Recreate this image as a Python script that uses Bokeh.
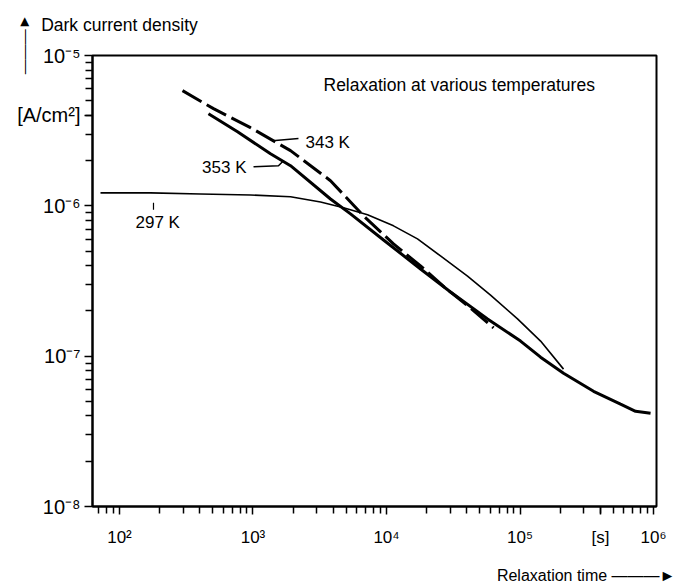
from bokeh.plotting import figure
from bokeh.models import Label, Title, FixedTicker, CustomJSTickFormatter, LogAxis
from bokeh.embed import file_html
from bokeh.resources import INLINE

# ---------------- data ----------------
t_297 = [72.1, 170.7, 404, 958, 1910, 3205, 4766, 7208, 11280, 17060, 25360,
         40420, 60120, 95770, 142500, 211700]
j_297 = [1.22e-6, 1.22e-6, 1.20e-6, 1.18e-6, 1.15e-6, 1.06e-6, 9.70e-7, 8.71e-7,
         7.36e-7, 6.03e-7, 4.64e-7, 3.41e-7, 2.55e-7, 1.77e-7, 1.26e-7, 8.2e-8]

t_343 = [296.5, 506, 958, 1910, 3806, 6725, 11280, 17980, 27660, 42590, 63310]
j_343 = [5.84e-6, 4.43e-6, 3.31e-6, 2.33e-6, 1.47e-6, 8.58e-7, 5.58e-7, 3.98e-7,
         2.84e-7, 2.09e-7, 1.54e-7]

t_353 = [464, 766, 1352, 1910, 3806, 5375, 9496, 17980, 30160, 57090, 100900,
         142500, 211700, 355300, 565900, 733300, 949600]
j_353 = [4.1e-6, 3.11e-6, 2.22e-6, 1.85e-6, 1.11e-6, 8.84e-7, 5.93e-7, 3.80e-7,
         2.67e-7, 1.77e-7, 1.26e-7, 9.85e-8, 7.70e-8, 5.84e-8, 4.79e-8, 4.30e-8, 4.17e-8]

x_major = [1e2, 1e3, 1e4, 1e5, 1e6]
y_major = [1e-8, 1e-7, 1e-6, 1e-5]
x_minor = [k * 10.0 ** d for d in range(1, 6) for k in range(2, 10)]
y_minor = [k * 10.0 ** d for d in range(-8, -5) for k in range(2, 10)]

# unit labels sit among the tick labels
x_unit_at, x_unit = 4e5, "[s]"
y_unit_at, y_unit = 4e-6, "[A/cm²]"

# axis titles: text and the x value they are centred on
y_title, y_title_at = "Dark current density", 1e2
x_title, x_title_at = "Relaxation time", 3.25e5

# curve labels (text, x, y) and leader lines
lab_343 = ("343 K", 2473, 2.63e-6)
lead_343_x = [1400, 2191]
lead_343_y = [2.71e-6, 2.80e-6]
lab_353 = ("353 K", 894, 1.79e-6)
lead_353_x = [1009, 1552, 1692]
lead_353_y = [1.82e-6, 1.848e-6, 1.995e-6]
lab_297 = ("297 K", 131.8, 7.70e-7)
mark_297_x = [179.8, 179.8]
mark_297_y = [1.047e-6, 9.40e-7]
title_text = ("Relaxation at various temperatures", 3373, 6.41e-6)

FONT = "Liberation Sans"
ARROW = "\u2014\u2014\u2014\u25ba"

# ---------------- layout ----------------
W, H = 689, 587
FL, FR, FT, FB = 92, 656, 55, 506   # frame edges on the canvas
XLO, XHI = 10 ** 1.798, 10 ** 6.022
YLO, YHI = 1e-8, 1e-5

p = figure(width=W, height=H, x_axis_type="log", y_axis_type="log",
           x_range=(XLO, XHI), y_range=(YLO, YHI), title=None,
           output_backend="svg", toolbar_location=None,
           min_border_left=FL, min_border_right=W - FR,
           min_border_top=FT, min_border_bottom=H - FB)
p.background_fill_color = "white"
p.border_fill_color = "white"
p.outline_line_color = "black"
p.outline_line_width = 2
p.grid.visible = False

pow10 = CustomJSTickFormatter(code="""
    const sup = {'0':'\u2070','1':'\u00b9','2':'\u00b2','3':'\u00b3','4':'\u2074',
                 '5':'\u2075','6':'\u2076','7':'\u2077','8':'\u2078','9':'\u2079','-':'\u207b'};
    const e = Math.round(Math.log10(tick));
    return '10' + String(e).split('').map(c => sup[c]).join('');
""")

for ax, maj, mnr, size, (ua, ut) in ((p.xaxis[0], x_major, x_minor, "17px", (x_unit_at, x_unit)),
                                     (p.yaxis[0], y_major, y_minor, "20px", (y_unit_at, y_unit))):
    ax.ticker = FixedTicker(ticks=maj + [ua], minor_ticks=mnr)
    ax.formatter = pow10
    ax.major_label_overrides = {ua: ut}
    ax.axis_line_width = 2
    ax.axis_line_color = "black"
    ax.major_tick_line_color = "black"
    ax.minor_tick_line_color = "black"
    ax.major_tick_line_width = 1.5
    ax.minor_tick_line_width = 1.5
    ax.major_tick_in = 0
    ax.major_tick_out = 8
    ax.minor_tick_in = 0
    ax.minor_tick_out = 7
    ax.major_label_text_font = FONT
    ax.major_label_text_font_size = size
    ax.major_label_text_color = "black"
p.xaxis.major_label_standoff = 13
p.yaxis.major_label_standoff = 4


# axis titles drawn as single-label axes (no line, no ticks)
def title_axis(text, at, side, standoff, size):
    a = LogAxis(ticker=FixedTicker(ticks=[at], minor_ticks=[]),
                formatter=CustomJSTickFormatter(code="return %r;" % text),
                axis_line_color=None, major_tick_line_color=None, minor_tick_line_color=None,
                major_tick_in=0, major_tick_out=0, minor_tick_in=0, minor_tick_out=0,
                major_label_standoff=standoff, major_label_text_font=FONT,
                major_label_text_font_size=size, major_label_text_color="black")
    p.add_layout(a, side)


title_axis(y_title, y_title_at, "above", 21, "17.5px")
title_axis(x_title + "  " + ARROW, x_title_at, "below", 17, "16px")

# upward arrow beside the y title
p.add_layout(Title(text=ARROW, align="right", offset=-41, standoff=-34,
                   text_font=FONT, text_font_size="15px", text_font_style="normal",
                   text_color="black"), "left")

# ---------------- curves ----------------
p.line(t_297, j_297, line_color="black", line_width=1.6)
p.line(t_343, j_343, line_color="black", line_width=3, line_dash="22 6")
p.line(t_353, j_353, line_color="black", line_width=3)

# leader lines / marker
p.line(lead_343_x, lead_343_y, line_color="black", line_width=1.5)
p.line(lead_353_x, lead_353_y, line_color="black", line_width=1.5)
p.line(mark_297_x, mark_297_y, line_color="black", line_width=1.2)

# in-plot texts
for (txt, x, y), align, size in ((lab_343, "left", "17px"), (lab_353, "right", "17px"),
                                 (lab_297, "left", "17px"), (title_text, "left", "17.5px")):
    p.add_layout(Label(x=x, y=y, text=txt, text_font=FONT, text_font_size=size,
                       text_align=align, text_baseline="middle", text_color="black"))

open("out.html", "w").write(file_html(p, INLINE))
